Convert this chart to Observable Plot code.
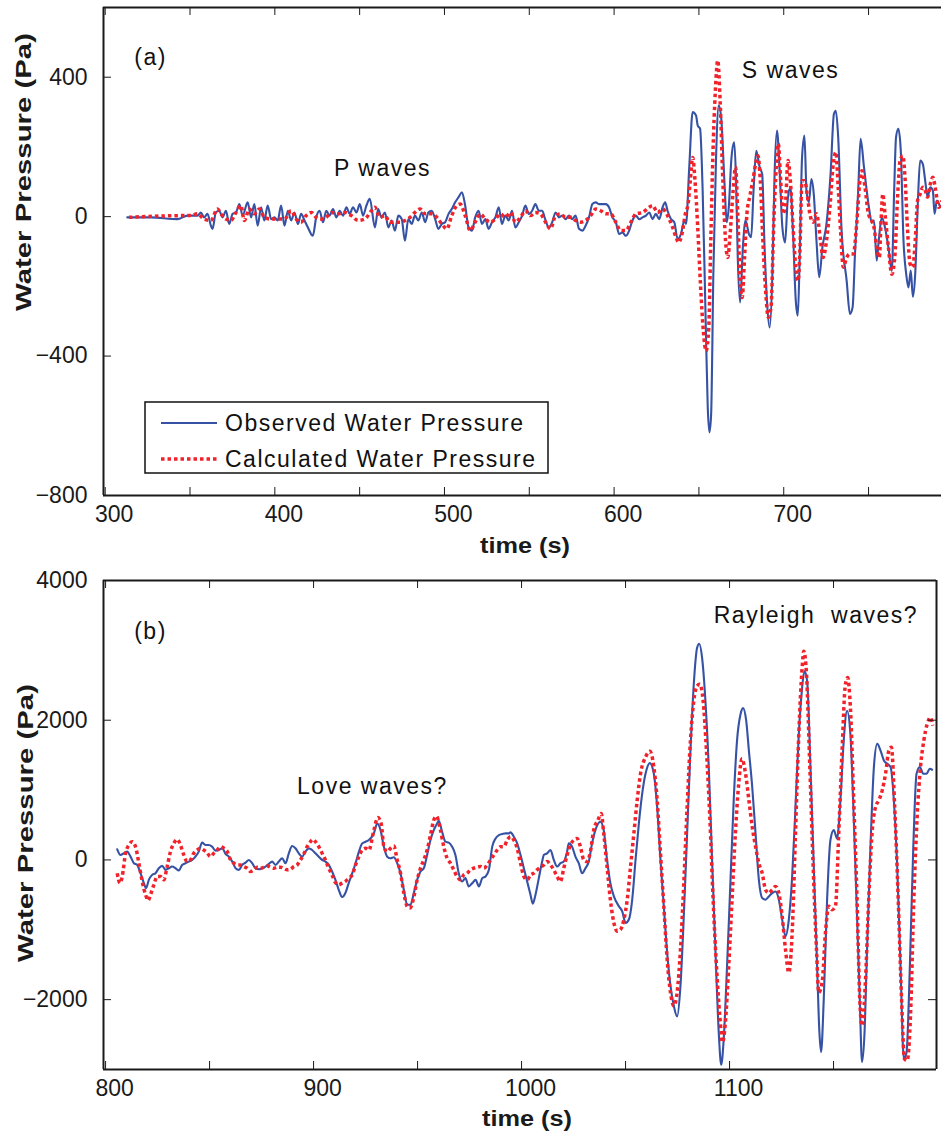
<!DOCTYPE html>
<html><head><meta charset="utf-8">
<script src="https://cdn.jsdelivr.net/npm/d3@7"></script>
<script src="https://cdn.jsdelivr.net/npm/@observablehq/plot@0.6"></script>
<style>
html,body{margin:0;padding:0;background:#fff;}
#chart svg{display:block;}
g[aria-label="text"] text{letter-spacing:1.5px;}
</style></head><body><div id="chart"></div>
<script>
// ---------- data: [time (s), water pressure (Pa)] ----------
const observedA = [[313,-2],[326.8,-2],[342.6,-7],[348.5,3],[354.4,3],[356.4,12],[358.3,-2],[360.3,8],[362.3,-26],[363.3,-35],[365.2,12],[367.2,17],[369.2,-2],[371.2,17],[373.1,-21],[375.1,8],[377.1,12],[379.1,36],[381,3],[384,41],[386,-2],[387.9,36],[389.9,-26],[391.9,27],[393.8,-11],[395.8,32],[397.8,-7],[399.8,-2],[401.7,-11],[403.7,32],[405.7,-26],[407.7,17],[409.6,-11],[411.6,12],[413.6,-21],[415.5,8],[417.5,-11],[419.5,-31],[422.4,-55],[424.4,-2],[426.4,17],[428.4,-16],[430.3,17],[432.3,3],[434.3,22],[436.3,-2],[438.2,17],[440.2,3],[442.2,27],[444.1,8],[446.1,27],[448.1,12],[450.1,36],[452,3],[454,32],[456,51],
[459,-31],[460.9,22],[462.9,-2],[464.9,12],[466.9,-31],[468.8,-11],[470.8,-40],[472.8,3],[474.8,-7],[476.7,-69],[478.7,-7],[480.7,-21],[482.6,3],[484.6,-11],[486.6,12],[488.6,-16],[490.5,12],[492.5,17],[494.5,-7],[496.4,-35],[498.4,-21],[500.4,-16],[502.4,8],[504.3,22],[506.3,41],[508.3,56],[510.3,70],[512.2,32],[514.2,-31],[516.2,-40],[518.1,-2],[520.1,17],[522.1,-21],[524.1,-7],[526,-35],[528,-16],[530,-2],[532,27],[533.9,-21],[535.9,3],[537.9,-11],[539.8,17],[541.8,-31],[543.8,-16],[545.8,3],[547.7,32],[549.7,8],[551.7,17],[553.6,36],[555.6,17],[557.6,17],[559.6,-11],[561.5,-31],[563.5,-16],[565.5,12],[567.5,-2],[569.4,3],[571.4,-7],[573.4,3],[575.3,-7],[577.3,3],[579.3,-35],[581.3,-40],[583.2,-26],[585.2,-2],[587.2,36],[589.2,41],[591.1,36],[593.1,36],[595.1,36],[597,27],[599,-2],[601,-16],[603,-50],[604.9,-45],[606.9,-55],[608.9,-40],[610.8,-11],[612.8,3],[614.8,-7],[616.8,-2],[618.8,3],[620.7,12],
[622.7,-7],[624.6,8],[626.6,-7],[628.6,27],[630.1,41],[631.5,17],[633.5,-7],[635.5,-16],[637.4,-64],[639.4,-50],[641.4,-11],[642.4,-21],[644.3,142],[646.3,300],[648.3,290],[649.3,261],[650.7,252],[652.2,75],[653.8,-260],[655.2,-547],[656.2,-619],[657.2,-567],[658.5,-165],[660.1,170],[661.7,319],[663.1,285],[665.1,94],[666.4,-16],[667.6,27],[669.2,170],[670.8,213],[671.9,103],[672.9,-117],[674.3,-246],[675.9,-88],[677.5,-11],[679.5,-50],[680.8,-59],[682.2,75],[683.8,189],[685.8,142],[687.3,122],[688.7,-88],[690.1,-241],[691.7,-318],[693.3,-165],[694.6,122],[696,247],[697.6,132],[699.2,-31],[700.8,-74],[702.3,46],[703.9,84],[705.5,-50],[707.1,-241],[708.3,-284],[709.4,-117],[710.8,170],[712.2,233],[713.4,75],[714.8,41],[716.3,108],[717.7,65],[719.3,-69],[720.9,-174],[722.8,-88],[725.2,-21],[727.6,122],[729.6,295],[730.7,304],[732.1,228],[734.1,-40],[737.1,-184],[739,-279],[740.6,-260],[742,-107],[743.9,75],[745.3,223],[747.3,142],[748.9,75],[750.5,17],[751.8,-16],[753.2,-11],[754.8,-126],[756,-69],[757.8,-2],[759.7,-31],[761.7,-88],[763.7,-155],[765.1,75],[766.2,228],[767.6,252],[769,189],[770.6,-69],[772.2,-165],[773.5,-203],[774.9,-155],[776.1,-230],[777.5,-165],[779.1,46],[780.4,161],[782,151],[783.4,103],[784.8,56],[786.4,84],[787.9,75],[788.9,8],[790.3,46],[792.3,27]];

const calculatedA = [[314,-2],[346.5,3],[350.5,3],[354.4,8],[358.3,-7],[362.3,-11],[366.2,22],[368.2,8],[371.2,-7],[374.1,-11],[377.1,12],[380,32],[382,-11],[385,22],[387.9,8],[390.9,22],[393.8,-2],[397.8,-7],[401.7,-7],[405.7,-7],[409.6,17],[412.6,-7],[415.5,-16],[418.5,3],[421.5,12],[424.4,-2],[427.4,-7],[430.3,-2],[433.3,12],[437.2,8],[441.2,12],[445.1,3],[449.1,-11],[453,-7],
[457,17],[459,27],[461.9,-2],[464.9,3],[467.8,-16],[470.8,-16],[473.8,-16],[476.7,-11],[479.7,-2],[482.6,12],[485.6,22],[488.6,8],[492.5,8],[495.5,-2],[498.4,-21],[501.4,-35],[504.3,3],[507.3,32],[509.3,36],[512.2,3],[515.2,-40],[518.1,-16],[521.1,8],[524.1,-7],[527,-16],[530,-7],[532.9,8],[535.9,-2],[538.9,12],[541.8,-16],[544.8,-2],[547.7,17],[550.7,3],[553.6,12],[556.6,8],[559.6,-16],[562.5,-35],[565.5,3],[568.4,8],[571.4,-2],[574.4,-2],[577.3,-11],[580.3,-16],[583.2,-11],[586.2,3],[589.2,22],[592.1,17],[595.1,8],[598,8],[601,-16],[603.9,-40],[606.9,-40],[609.9,-16],[612.8,8],[616.8,12],[620.7,27],
[622.7,32],[625.6,12],[628.6,22],[631.5,3],[634.5,-31],[636.5,-59],[638,-74],[640,-50],[642,8],[643.6,36],[644.9,103],[646.3,170],[647.7,103],[649.3,-31],[650.9,-193],[652.6,-327],[654.2,-385],[655.8,-318],[657,-69],[658.2,170],[659.7,362],[661.1,448],[662.5,333],[664.1,103],[665.7,-69],[667,-117],[668.4,-50],[670,65],[671.6,142],[672.9,8],[674.3,-184],[675.5,-232],[676.9,-117],[678.3,8],[679.9,56],[681.8,103],[683.8,161],[684.8,175],[686.2,103],[687.7,-69],[689.3,-212],[690.9,-289],[692.5,-260],[694.1,-21],[695.6,142],[696.8,209],[698.2,103],[699.6,8],[701,36],[702.5,161],[703.9,103],[705.5,-31],[707.1,-145],[708.5,-184],[709.4,-117],[710.8,103],[712.4,103],[713.8,65],[715.4,8],[717.3,-16],[719.3,8],[721.7,-69],[723.2,-117],[725.2,-69],[727.2,27],[729.2,151],[730.7,185],[732.1,84],[733.5,-40],[735.1,-145],[737.1,-117],[739,-107],[741,-107],[743,-21],[744.9,103],[746.1,132],[747.9,84],[749.9,8],[751.8,-11],[753.2,-31],[754.8,-88],[756.4,-117],[757.2,-31],[758.4,65],[759.7,8],[761.7,-88],[763.7,-165],[765.6,-107],[767,46],[768.6,161],[770.2,175],[771.6,103],[772.9,-31],[774.5,-136],[776.1,-145],[777.5,-69],[778.9,46],[780.4,65],[782,84],[783.4,75],[784.8,56],[786.4,94],[787.9,113],[789.3,84],[791.3,27],[793.3,46]];

const observedB = [[805.6,152],[807.2,71],[808.8,95],[810.4,119],[812,47],[813.6,-47],[815.2,-71],[816.8,-190],[818.4,-332],[819.5,-403],[820.8,-285],[822.4,-214],[824,-190],[825.6,-119],[827.2,-85],[828.8,-142],[830.4,-119],[832,-95],[833.6,-119],[835.2,-152],[836.8,-71],[838.4,-47],[840,-24],[841.6,0],[843.2,47],[844.8,119],[846.4,247],[848,214],[849.6,214],[851.2,190],[852.9,133],[854.5,142],[856.1,166],[857.7,85],[859.3,47],[860.9,-24],[862.5,-119],[864.1,-142],[865.7,-71],[867.3,-38],[868.9,0],[870.5,-47],[872.1,-119],[873.7,-133],[875.3,-119],[876.9,-95],[878.5,-57],[880.1,-24],[881.7,-71],[883.3,-24],[884.9,24],[886.5,-47],[888.1,95],[889.7,199],[891.3,166],[892.9,95],[894.5,47],[896.1,119],[897.7,166],[899.3,142],[900.9,95],[902.5,47],[904.1,0],[905.7,-24],[907.3,-71],[908.9,-166],[910.5,-285],[912.1,-427],[913.7,-531],[915.3,-474],[916.9,-332],[918.6,-190],[920.2,-47],[921.8,119],[923.4,237],[925,261],[926.6,285],
[929,380],[930.6,522],[932.2,427],[933.8,190],[935.4,47],[937,24],[938.6,38],[940.2,-47],[941.8,-190],[943.4,-427],[945,-641],[946.6,-641],[948.2,-474],[949.8,-285],[951.4,-166],[953,-119],[954.6,71],[956.2,285],[957.8,427],[959.4,522],[960.2,560],[961.8,403],[963.4,261],[965,247],[966.6,190],[968.2,71],[969.8,-190],[971.4,-308],[973,-261],[974.6,-380],[976.3,-332],[977.9,-285],[979.5,-380],[981.1,-261],[982.7,-237],[984.3,-142],[985.9,190],[987.5,308],[989.1,356],[990.7,370],[992.3,380],[993.9,380],[994.7,394],[996.3,332],[997.9,237],[999.5,71],[1001.1,-119],[1002.7,-308],[1004.3,-498],[1005.4,-626],[1006.7,-498],[1008.3,-261],[1009.9,-24],[1010.7,71],[1012.3,95],[1013.9,142],[1015.5,0],[1017.1,-95],[1018.7,-47],[1020.3,-24],[1021.9,119],[1022.7,237],[1024.3,190],[1025.9,47],[1027.5,-47],[1029.1,-190],[1030.7,-119],[1032.3,-24],[1033.9,237],[1035.5,427],[1037.9,546],
[1039.5,427],[1041.1,0],[1042.7,-332],[1044.4,-522],[1046.8,-664],[1048.4,-736],[1050,-902],[1051.6,-854],[1053.2,-569],[1054.8,0],[1056.4,522],[1058,949],[1059.6,1234],[1061.7,1386],[1063.6,1234],[1065.2,759],[1066.8,0],[1068.4,-664],[1070,-1329],[1071.6,-1803],[1073.2,-2088],[1074.8,-2240],[1076.4,-1803],[1078,-807],[1079.6,380],[1081.2,1566],[1082.8,2515],[1084.4,3037],[1085.4,3094],[1086.8,2894],[1088.4,2278],[1090,1329],[1091.6,0],[1093.2,-1281],[1094.8,-2467],[1096,-2932],[1097.2,-2562],[1098.8,-1518],[1100.4,-332],[1102,854],[1103.6,1708],[1105.3,2088],[1106.5,2173],[1108,1993],[1109.3,1566],[1110.9,1044],[1112.5,380],[1114.1,-285],[1115.7,-546],[1117.3,-569],[1118.9,-522],[1120.5,-475],[1122.1,-451],[1123.7,-569],[1125.3,-854],[1126.9,-1091],[1128.5,-854],[1130.1,-237],[1131.7,759],[1133.3,1803],[1134.9,2467],[1136,2705],[1137.3,2562],[1138.9,1329],[1140.5,-95],[1142.1,-1518],[1143.2,-2467],[1144,-2752],[1145.3,-1993],[1146.9,-569],[1148.5,285],[1150.1,427],[1151.7,308],[1153.3,854],[1154.9,1708],[1156.5,2135],[1158.1,1803],[1159.7,617],[1161.3,-807],[1162.6,-1993],[1163.7,-2894],[1164.9,-2467],[1166.1,-1281],[1167.7,142],[1169.4,1329],[1171,1661],[1172.6,1566],[1174.2,1424],[1175.8,1376],[1177.4,1329],[1179,854],[1180.6,-95],[1182.2,-1518],[1183.8,-2847],[1185.1,-2752],[1186.7,-1518],[1188.3,142],[1189.9,1234],[1191.5,1329],[1193.1,1234],[1194.7,1234],[1196.3,1305],[1197.4,1291]];

const calculatedB = [[805.6,-190],[806.9,-332],[808,-237],[809.6,95],[811.2,214],[812.8,261],[814.4,190],[816,-47],[817.6,-308],[819.2,-498],[820.5,-579],[821.6,-498],[823.2,-356],[824.8,-237],[826.4,-237],[828,-285],[829.6,-95],[831.2,119],[832.8,237],[834.4,294],[836,214],[837.6,71],[839.2,-24],[840.8,0],[842.4,95],[844,142],[845.6,166],[847.2,142],[848.8,104],[850.4,47],[852,95],[853.7,142],[855.3,190],[856.9,166],[858.5,119],[860.1,0],[861.7,-47],[863.3,-71],[864.9,-71],[866.5,-95],[868.1,-119],[869.7,-166],[871.3,-142],[872.9,-104],[874.5,-119],[876.1,-104],[877.7,-85],[879.3,-104],[880.9,-119],[882.5,-104],[884.1,-104],[885.7,-119],[887.3,-142],[888.9,-133],[890.5,-95],[892.1,-71],[893.7,0],[895.3,85],[896.9,190],[898.5,261],[899.8,294],[900.9,261],[902.5,190],[904.1,95],[905.7,0],[907.3,-119],[908.9,-214],[910.5,-323],[912.1,-356],[913.7,-332],[915.3,-308],[916.9,-261],[918.6,-214],[920.2,-71],[921.8,47],[923.4,142],[925,166],[926.6,142],
[929,427],[930.9,607],[932.5,522],[933.8,190],[935.4,119],[937,166],[938.6,199],[940.2,0],[941.8,-190],[943.4,-474],[945,-664],[946.3,-688],[947.9,-569],[949.8,-285],[951.4,-119],[953,0],[954.6,142],[956.2,356],[957.8,569],[959.1,626],[961,427],[962.6,190],[964.2,24],[965.8,-47],[967.4,-142],[969,-237],[970.6,-285],[972.2,-214],[973.8,-190],[975.4,-142],[977,-119],[978.7,-104],[980.3,-95],[981.9,-119],[983.5,-71],[985.1,0],[986.7,71],[988.3,142],[989.9,190],[991.5,190],[993.1,285],[994.7,332],[996.3,285],[997.9,166],[999.5,-47],[1001.1,-237],[1002.7,-285],[1004.3,-214],[1005.9,-190],[1007.5,-142],[1009.1,-104],[1010.7,-71],[1012.3,-24],[1013.9,-71],[1015.5,-142],[1017.1,-237],[1018.7,-308],[1020.3,-119],[1021.9,71],[1023.5,214],[1025.1,285],[1026.7,308],[1028.3,190],[1029.9,0],[1031.5,-24],[1033.1,119],[1034.7,427],[1036.7,569],[1038.3,664],
[1039.5,380],[1041.1,-95],[1042.7,-569],[1044.4,-902],[1046,-1020],[1047.6,-996],[1049.2,-854],[1050.8,-569],[1052.4,-95],[1054,380],[1055.6,854],[1057.2,1234],[1059.6,1471],[1061.7,1556],[1063.6,1329],[1065.2,854],[1066.8,95],[1068.4,-664],[1070,-1424],[1071.6,-1898],[1073.2,-2088],[1074.8,-1898],[1076.4,-1281],[1078,-332],[1079.6,759],[1081.2,1708],[1082.8,2278],[1084.4,2491],[1085.7,2515],[1087.3,2278],[1088.9,1566],[1090.5,617],[1092.1,-569],[1093.7,-1518],[1095.3,-2230],[1096.6,-2610],[1098,-2325],[1099.6,-1518],[1101.2,-569],[1102.8,380],[1104.4,1091],[1106,1447],[1107.7,1234],[1109.3,854],[1110.9,475],[1112.5,190],[1114.1,-47],[1115.7,-190],[1117.3,-427],[1118.9,-475],[1120.5,-427],[1122.1,-380],[1123.7,-475],[1125.3,-807],[1126.9,-1281],[1128.5,-1613],[1130.1,-1044],[1131.7,380],[1133.3,1803],[1134.9,2752],[1135.7,2989],[1137,2657],[1138.6,1329],[1140.2,-95],[1141.8,-1281],[1142.9,-1898],[1144.5,-1756],[1146.1,-1044],[1147.7,-664],[1149.3,-712],[1150.9,-664],[1152.5,380],[1154.1,1566],[1155.7,2515],[1156.8,2610],[1158.1,2183],[1159.7,854],[1161.3,-569],[1162.6,-1993],[1163.7,-2373],[1165.3,-1756],[1166.9,-569],[1168.5,380],[1170.2,759],[1171.8,854],[1173.4,996],[1175,1234],[1176.6,1566],[1177.8,1613],[1179.4,759],[1181.1,-569],[1182.7,-1993],[1184.1,-2847],[1185.4,-2871],[1187,-2230],[1188.6,-569],[1190.2,617],[1191.8,1329],[1193.4,1708],[1195,1945],[1196.6,2040],[1197.7,1922]];

// ticks
const xTicksA = [300, 400, 500, 600, 700];
const xMinorA = [300, 350, 400, 450, 500, 550, 600, 650, 700, 750];
const yTicksA = [-800, -400, 0, 400];
const xTicksB = [800, 900, 1000, 1100];
const xMinorB = [800, 850, 900, 950, 1000, 1050, 1100, 1150];
const yTicksB = [-2000, 0, 2000, 4000];

// annotations: [text, time, pressure]
const notesA = [["(a)", 326.8, 456], ["P waves", 463.5, 138], ["S waves", 704, 419]];
const notesB = [["(b)", 821.6, 3274], ["Love waves?", 928.3, 1053], ["Rayleigh\u00a0 waves?", 1141.5, 3502]];

const legendItems = ["Observed Water Pressure", "Calculated Water Pressure"];

// ---------- drawing ----------
const FONT = "'Liberation Sans', Arial, Helvetica, sans-serif";
const BLUE = "#3552a4";
const RED = "#f2222b";
const INK = "#1a1a1a";
const W = 941;
const DASH = "3.5,3";
const fmt = d => d < 0 ? "\u2212" + Math.abs(d) : String(d);

function panel(cfg) {
  const innerW = W - cfg.ml - cfg.mr;
  const innerH = cfg.h - cfg.mt - cfg.mb;
  const marks = [
    Plot.line(cfg.obs, {x: d => d[0], y: d => d[1], curve: "monotone-x", stroke: BLUE, strokeWidth: 2.1, clip: true}),
    Plot.line(cfg.cal, {x: d => d[0], y: d => d[1], curve: "monotone-x", stroke: RED, strokeWidth: 3.5, strokeDasharray: DASH, strokeLinecap: "butt", strokeLinejoin: "miter", clip: true}),
    Plot.tickX(cfg.xMinor, {x: d => d, insetTop: innerH - 8, stroke: INK, strokeWidth: 1}),
    Plot.tickX(cfg.xMinor, {x: d => d, insetBottom: innerH - 8, stroke: INK, strokeWidth: 1}),
    Plot.tickY(cfg.yTicks, {y: d => d, insetRight: innerW - 8, stroke: INK, strokeWidth: 1}),
    Plot.ruleX([cfg.xDomain[0]], {stroke: INK, strokeWidth: 2}),
    Plot.ruleY([cfg.yDomain[0], cfg.yDomain[1]], {stroke: INK, strokeWidth: 2}),
    Plot.axisX({ticks: cfg.xTicks, tickSize: 0, tickPadding: 10, dx: 9, label: null, tickFormat: fmt, fontSize: 23, fill: INK}),
    Plot.axisY({ticks: cfg.yTicks, tickSize: 0, tickPadding: 16, label: null, tickFormat: fmt, fontSize: 23, fill: INK}),
    Plot.text(cfg.notes, {x: d => d[1], y: d => d[2], text: d => d[0], fontSize: 23, fontFamily: FONT, fill: "#111"})
  ];
  if (cfg.box) {
    marks.push(Plot.tickY(cfg.yTicks, {y: d => d, insetLeft: innerW - 8, stroke: INK, strokeWidth: 1}));
    marks.push(Plot.ruleX([cfg.xDomain[1]], {stroke: INK, strokeWidth: 2}));
  }
  const svg = Plot.plot({
    width: W, height: cfg.h,
    marginLeft: cfg.ml, marginRight: cfg.mr, marginTop: cfg.mt, marginBottom: cfg.mb,
    x: {domain: cfg.xDomain},
    y: {domain: cfg.yDomain},
    style: {fontFamily: FONT, fontSize: "23px", background: "#fff", color: INK, overflow: "visible"},
    marks
  });
  const s = d3.select(svg);
  // y axis title
  s.append("text")
    .attr("transform", `translate(${cfg.yTitle[0]},${cfg.yTitle[1]}) rotate(-90)`)
    .attr("text-anchor", "middle")
    .attr("font-family", FONT).attr("font-weight", "bold").attr("font-size", 22)
    .attr("fill", INK)
    .attr("textLength", 278).attr("lengthAdjust", "spacingAndGlyphs")
    .text("Water Pressure (Pa)");
  // x axis title
  s.append("text")
    .attr("x", cfg.xTitle[0]).attr("y", cfg.xTitle[1])
    .attr("text-anchor", "middle")
    .attr("font-family", FONT).attr("font-weight", "bold").attr("font-size", 22)
    .attr("fill", INK)
    .attr("textLength", 90).attr("lengthAdjust", "spacingAndGlyphs")
    .text("time (s)");
  return svg;
}

const svgA = panel({
  obs: observedA, cal: calculatedA, h: 560, ml: 103, mr: 0, mt: 7, mb: 65,
  xDomain: [299, 793], yDomain: [-800, 600],
  xTicks: xTicksA, xMinor: xMinorA, yTicks: yTicksA, notes: notesA, box: false,
  yTitle: [31, 172], xTitle: [525, 553]
});
const svgB = panel({
  obs: observedB, cal: calculatedB, h: 574, ml: 103, mr: 5, mt: 20, mb: 65,
  xDomain: [799, 1199.5], yDomain: [-3000, 4000],
  xTicks: xTicksB, xMinor: xMinorB, yTicks: yTicksB, notes: notesB, box: true,
  yTitle: [33, 263], xTitle: [527, 566]
});

// legend in panel (a)
const lg = d3.select(svgA).append("g").attr("text-anchor", "start");
lg.append("rect").attr("x", 145).attr("y", 402).attr("width", 403).attr("height", 71)
  .attr("fill", "#fff").attr("stroke", "#111").attr("stroke-width", 1.5);
lg.append("line").attr("x1", 161).attr("x2", 217).attr("y1", 423).attr("y2", 423)
  .attr("stroke", BLUE).attr("stroke-width", 2);
lg.append("line").attr("x1", 161).attr("x2", 217).attr("y1", 459).attr("y2", 459)
  .attr("stroke", RED).attr("stroke-width", 3.5).attr("stroke-dasharray", DASH);
legendItems.forEach((t, i) => {
  lg.append("text").attr("x", 225).attr("y", 431 + i * 36)
    .attr("text-anchor", "start")
    .attr("font-family", FONT).attr("font-size", 23).attr("letter-spacing", "1.5px")
    .attr("fill", "#111").text(t);
});

document.getElementById("chart").append(svgA, svgB);
</script></body></html>
